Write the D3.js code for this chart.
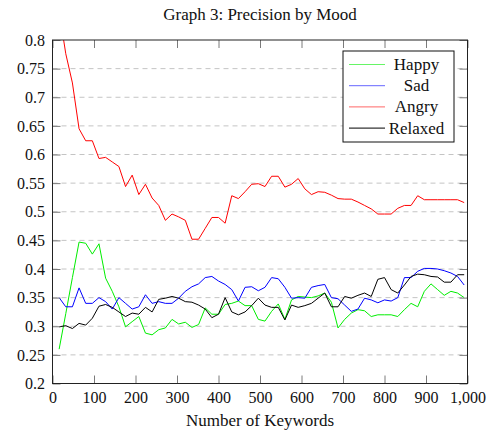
<!DOCTYPE html>
<html>
<head>
<meta charset="utf-8">
<script src="https://cdn.jsdelivr.net/npm/d3@7"></script>
<style>
  html, body { margin: 0; padding: 0; background: #fff; }
  svg { display: block; }
  svg text { font-family: "Liberation Serif", Tinos, "Times New Roman", Times, "DejaVu Serif", serif !important; fill: #111; }
</style>
</head>
<body>
<svg id="chart" width="491" height="433"></svg>
<script>
const title = "Graph 3: Precision by Mood";
const xLabel = "Number of Keywords";
const keywords = [16,32,48,64,80,96,112,128,144,160,176,192,208,224,240,256,272,288,304,320,336,352,368,384,400,416,432,448,464,480,496,512,528,544,560,576,592,608,624,640,656,672,688,704,720,736,752,768,784,800,816,832,848,864,880,896,912,928,944,960,976,992];

const happy = [0.260,0.322,0.385,0.447,0.445,0.426,0.444,0.384,0.361,0.334,0.299,0.308,0.317,0.288,0.285,0.294,0.297,0.312,0.304,0.307,0.298,0.303,0.332,0.321,0.321,0.338,0.340,0.344,0.336,0.336,0.312,0.309,0.326,0.339,0.312,0.346,0.352,0.351,0.350,0.353,0.358,0.342,0.297,0.312,0.323,0.329,0.327,0.317,0.320,0.320,0.320,0.317,0.329,0.340,0.334,0.361,0.374,0.364,0.354,0.361,0.358,0.350];
const sad = [0.350,0.334,0.334,0.367,0.340,0.340,0.350,0.343,0.330,0.350,0.340,0.330,0.334,0.355,0.340,0.343,0.340,0.340,0.349,0.361,0.369,0.374,0.385,0.387,0.379,0.373,0.364,0.344,0.368,0.369,0.362,0.368,0.385,0.383,0.368,0.349,0.350,0.349,0.368,0.371,0.373,0.350,0.348,0.337,0.326,0.330,0.349,0.346,0.341,0.346,0.344,0.350,0.385,0.385,0.396,0.401,0.401,0.400,0.397,0.393,0.387,0.372];
const angry = [0.850,0.776,0.725,0.645,0.624,0.624,0.593,0.595,0.587,0.579,0.544,0.564,0.530,0.548,0.524,0.511,0.485,0.496,0.491,0.485,0.452,0.452,0.471,0.490,0.490,0.480,0.528,0.523,0.535,0.548,0.549,0.544,0.562,0.562,0.543,0.548,0.558,0.540,0.530,0.535,0.534,0.529,0.523,0.522,0.522,0.517,0.511,0.505,0.496,0.496,0.496,0.506,0.511,0.511,0.528,0.521,0.521,0.521,0.521,0.521,0.521,0.516];
const relaxed = [0.299,0.301,0.296,0.305,0.302,0.314,0.335,0.338,0.333,0.325,0.317,0.323,0.321,0.333,0.325,0.347,0.349,0.352,0.349,0.343,0.342,0.337,0.330,0.315,0.321,0.350,0.325,0.320,0.325,0.336,0.349,0.337,0.333,0.333,0.311,0.337,0.333,0.336,0.340,0.349,0.358,0.334,0.334,0.352,0.349,0.354,0.358,0.352,0.382,0.385,0.364,0.358,0.372,0.387,0.391,0.390,0.387,0.386,0.377,0.377,0.390,0.390];

const seriesNames = ["Happy", "Sad", "Angry", "Relaxed"];
const seriesColors = ["#00ee00", "#0000ff", "#ff0000", "#000000"];
const seriesValues = [happy, sad, angry, relaxed];

const xTicks = [0,100,200,300,400,500,600,700,800,900,1000];
const xTickLabels = ["0","100","200","300","400","500","600","700","800","900","1,000"];
const yTicks = [0.2,0.25,0.3,0.35,0.4,0.45,0.5,0.55,0.6,0.65,0.7,0.75,0.8];
const yTickLabels = ["0.2","0.25","0.3","0.35","0.4","0.45","0.5","0.55","0.6","0.65","0.7","0.75","0.8"];

const FONT = "'Liberation Serif', Tinos, 'Times New Roman', Times, 'DejaVu Serif', serif";
const L = 52.5, R = 467.5, T = 40, B = 383.5;
const svg = d3.select("#chart");
const x = d3.scaleLinear().domain([0, 1000]).range([L, R]);
const y = d3.scaleLinear().domain([0.2, 0.8]).range([B, T]);

// grid
svg.append("g").selectAll("line")
  .data(yTicks.filter(v => v > 0.21 && v < 0.79))
  .join("line")
  .attr("x1", L).attr("x2", R)
  .attr("y1", d => y(d)).attr("y2", d => y(d))
  .attr("stroke", "#c4c4c4").attr("stroke-width", 1)
  .attr("stroke-dasharray", "5,4");

// clip
svg.append("clipPath").attr("id", "clip")
  .append("rect").attr("x", L).attr("y", T).attr("width", R - L).attr("height", B - T);

const line = d3.line().x((d, i) => x(keywords[i])).y(d => y(d));
seriesValues.forEach((vals, si) => {
  svg.append("path")
    .datum(vals)
    .attr("clip-path", "url(#clip)")
    .attr("fill", "none")
    .attr("stroke", seriesColors[si])
    .attr("stroke-width", 1)
    .attr("stroke-linejoin", "round")
    .attr("d", line);
});

const tickLen = 8;
function styleAxis(g) {
  g.attr("font-family", FONT);
  g.select(".domain").remove();
  g.selectAll(".tick line").attr("stroke", "#7a7a7a").attr("stroke-width", 1);
  g.selectAll(".tick text").attr("font-size", 16).attr("fill", "#111")
    .style("font-family", FONT);
}
svg.append("g").attr("transform", `translate(0,${B})`)
  .call(d3.axisBottom(x).tickValues(xTicks).tickSize(-tickLen).tickPadding(8)
    .tickFormat((d, i) => xTickLabels[i]))
  .call(styleAxis);
svg.append("g").attr("transform", `translate(0,${T})`)
  .call(d3.axisTop(x).tickValues(xTicks).tickSize(-tickLen).tickFormat(""))
  .call(styleAxis);
svg.append("g").attr("transform", `translate(${L},0)`)
  .call(d3.axisLeft(y).tickValues(yTicks).tickSize(-tickLen).tickPadding(7.5)
    .tickFormat((d, i) => yTickLabels[i]))
  .call(styleAxis);
svg.append("g").attr("transform", `translate(${R},0)`)
  .call(d3.axisRight(y).tickValues(yTicks).tickSize(-tickLen).tickFormat(""))
  .call(styleAxis);

// frame
svg.append("rect").attr("x", L).attr("y", T).attr("width", R - L).attr("height", B - T)
  .attr("fill", "none").attr("stroke", "#222").attr("stroke-width", 1);

// title & label
svg.append("text").attr("x", (L + R) / 2).attr("y", 20).attr("text-anchor", "middle")
  .attr("font-size", 17).style("font-family", FONT).text(title);
svg.append("text").attr("x", (L + R) / 2).attr("y", 426).attr("text-anchor", "middle")
  .attr("font-size", 17).style("font-family", FONT).text(xLabel);

// legend
const lg = svg.append("g");
lg.append("rect").attr("x", 343).attr("y", 51).attr("width", 111).attr("height", 91)
  .attr("fill", "#fff").attr("stroke", "#111").attr("stroke-width", 1);
seriesNames.forEach((name, i) => {
  const ry = 64.5 + i * 21.2;
  lg.append("line").attr("x1", 349).attr("x2", 385).attr("y1", ry).attr("y2", ry)
    .attr("stroke", seriesColors[i]).attr("stroke-width", 1).attr("stroke-opacity", i === 3 ? 1 : 0.6);
  lg.append("text").attr("x", 416.5).attr("y", ry + 5.5).attr("text-anchor", "middle")
    .attr("font-size", 17).style("font-family", FONT).text(name);
});
</script>
</body>
</html>
